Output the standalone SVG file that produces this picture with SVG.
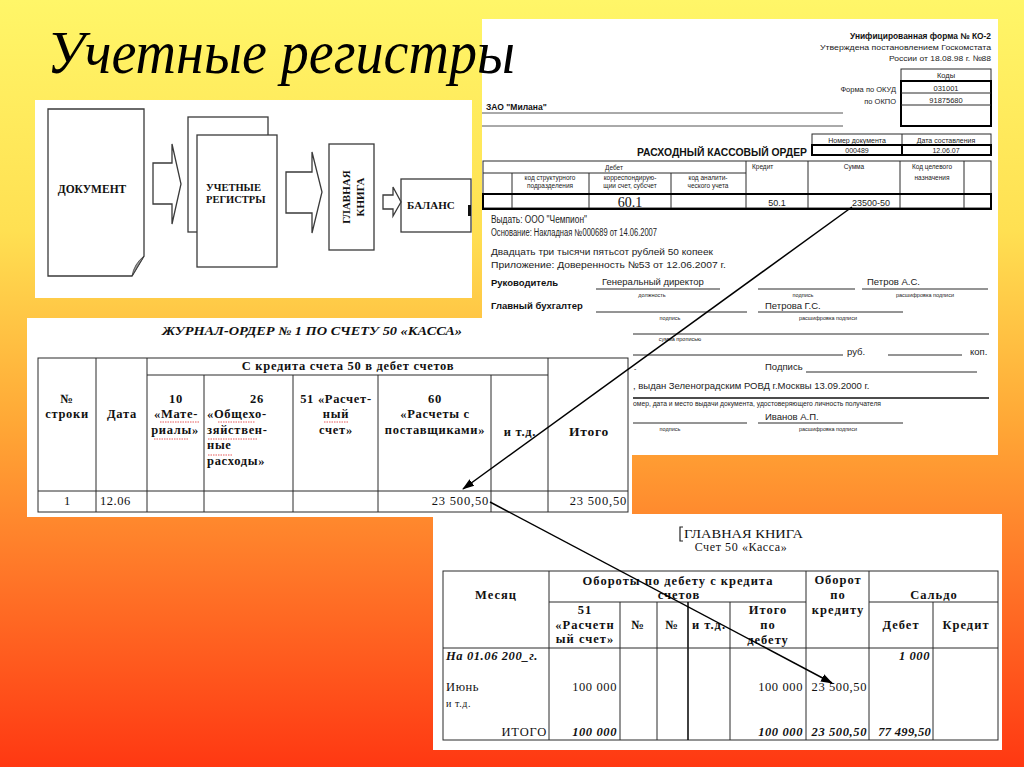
<svg xmlns="http://www.w3.org/2000/svg" width="1024" height="767" viewBox="0 0 1024 767">
<defs>
<linearGradient id="bg" x1="0" y1="0" x2="0" y2="1">
<stop offset="0" stop-color="#FFF668"/>
<stop offset="0.3" stop-color="#FFE052"/>
<stop offset="0.55" stop-color="#FFA836"/>
<stop offset="0.75" stop-color="#FF7628"/>
<stop offset="1" stop-color="#FF3812"/>
</linearGradient>
<marker id="ah" viewBox="0 0 12 10" refX="11" refY="5" markerWidth="12" markerHeight="10" markerUnits="userSpaceOnUse" orient="auto">
<path d="M0,1 L12,5 L0,9 Z" fill="#000"/>
</marker>
<style>
.s{font-family:"Liberation Sans",Arial,sans-serif;fill:#222}
.sb{font-family:"Liberation Sans",Arial,sans-serif;fill:#111;font-weight:bold}
.t{font-family:"Liberation Serif","Times New Roman",serif;fill:#111}
.tb{font-family:"Liberation Serif","Times New Roman",serif;fill:#111;font-weight:bold}
.c{text-anchor:middle}
.e{text-anchor:end}
.ln{stroke:#2a2a2a;stroke-width:1;fill:none}
.tk{stroke:#000;stroke-width:2;fill:none}
.fl{stroke:#3a3a3a;stroke-width:1.3;fill:#fff}
.sp{stroke:#e03030;stroke-width:0.8;stroke-dasharray:1.5 1;fill:none}
.jh{font-size:12.5px;letter-spacing:0.7px}
.bh{font-size:12.5px;letter-spacing:1px}
.tiny{font-size:5.5px}
.sm{font-size:6.5px}
.bd{font-size:9.5px}
.conn{stroke:#000;stroke-width:1.5;fill:none}
</style>
</defs>

<rect x="0" y="0" width="1024" height="767" fill="url(#bg)"/>

<!-- Flow diagram panel -->
<g id="flow-panel">
<rect x="35" y="100" width="437" height="198" fill="#fff"/>
<g id="node-document">
<path class="fl" d="M48,109 H144 V256 L132,276 H48 Z"/>
<path d="M144,256 L132,276 Q134,264 144,256 Z" fill="#9a9a9a" stroke="#3a3a3a" stroke-width="0.8"/>
<text class="tb c" x="92" y="193" font-size="11.5">ДОКУМЕНТ</text>
</g>
<g id="node-registers">
<rect class="fl" x="188" y="117" width="80" height="115"/>
<rect class="fl" x="197" y="135" width="80" height="132"/>
<text class="tb" x="206" y="191" font-size="10.5">УЧЕТНЫЕ</text>
<text class="tb" x="206" y="203" font-size="10.5">РЕГИСТРЫ</text>
</g>
<g id="node-ledger">
<rect class="fl" x="329" y="144" width="45" height="106"/>
<text class="tb c" transform="translate(350,197) rotate(-90)" font-size="11">ГЛАВНАЯ</text>
<text class="tb c" transform="translate(364,197) rotate(-90)" font-size="11">КНИГА</text>
</g>
<g id="node-balance">
<rect class="fl" x="401" y="179" width="70" height="53"/>
<text class="tb" x="407" y="209" font-size="11">БАЛАНС</text>
<rect x="468" y="205" width="3" height="11" fill="#111"/>
</g>
<g id="flow-connectors">
<polygon class="fl" points="153,163 172,163 172,144 181,184 172,224 172,204 153,204"/>
<polygon class="fl" points="286,172 312,172 312,152 322,192 312,233 312,213 286,213"/>
<polygon class="fl" points="383,195 393,195 393,187 401,202 393,216 393,209 383,209"/>
</g>
</g>

<!-- Cash order form КО-2 -->
<g id="form-ko2">
<rect x="482" y="19" width="516" height="436" fill="#fff"/>
<text class="sb e" x="991" y="39" font-size="8.5" textLength="141" lengthAdjust="spacingAndGlyphs">Унифицированная форма № КО-2</text>
<text class="s e" x="991" y="50" font-size="8" textLength="171" lengthAdjust="spacingAndGlyphs">Утверждена постановлением Госкомстата</text>
<text class="s e" x="991" y="61" font-size="8" textLength="102" lengthAdjust="spacingAndGlyphs">России от 18.08.98 г. №88</text>
<rect class="ln" x="901" y="69" width="90" height="12"/>
<text class="s c" x="946" y="78" font-size="7.5">Коды</text>
<rect class="tk" x="901" y="81" width="90" height="45"/>
<line class="ln" x1="901" y1="93" x2="991" y2="93"/>
<line class="ln" x1="901" y1="105" x2="991" y2="105"/>
<text class="s c" x="946" y="91" font-size="7.5">031001</text>
<text class="s c" x="946" y="103" font-size="7.5">91875680</text>
<text class="s e" x="896" y="92" font-size="7.5">Форма по ОКУД</text>
<text class="s e" x="896" y="104" font-size="7.5">по ОКПО</text>
<text class="sb" x="486" y="110" font-size="8.5">ЗАО "Милана"</text>
<line x1="482" y1="113" x2="843" y2="113" stroke="#555" stroke-width="1"/>
<line x1="482" y1="126" x2="843" y2="126" stroke="#555" stroke-width="1"/>
<rect class="ln" x="812" y="134" width="179" height="11"/>
<line class="ln" x1="902" y1="134" x2="902" y2="145"/>
<rect class="tk" x="812" y="145" width="179" height="10"/>
<line class="tk" x1="902" y1="145" x2="902" y2="155"/>
<text class="s c" x="857" y="142.5" font-size="7">Номер документа</text>
<text class="s c" x="946" y="142.5" font-size="7">Дата составления</text>
<text class="s c" x="857" y="153" font-size="7">000489</text>
<text class="s c" x="946" y="153" font-size="7">12.06.07</text>
<text class="sb" x="637" y="156" font-size="10" textLength="170" lengthAdjust="spacingAndGlyphs">РАСХОДНЫЙ КАССОВЫЙ ОРДЕР</text>
<rect class="ln" x="483" y="161" width="508" height="47"/>
<line class="ln" x1="483" y1="173" x2="746" y2="173"/>
<line class="ln" x1="512" y1="173" x2="512" y2="208"/>
<line class="ln" x1="589" y1="173" x2="589" y2="208"/>
<line class="ln" x1="671" y1="173" x2="671" y2="208"/>
<line class="ln" x1="746" y1="161" x2="746" y2="208"/>
<line class="ln" x1="808" y1="161" x2="808" y2="208"/>
<line class="ln" x1="900" y1="161" x2="900" y2="208"/>
<line class="ln" x1="964" y1="161" x2="964" y2="208"/>
<rect class="tk" x="483" y="194" width="508" height="15"/>
<text class="s c sm" x="614" y="170">Дебет</text>
<text class="s c sm" x="550" y="180">код структурного</text>
<text class="s c sm" x="550" y="188">подразделения</text>
<text class="s c sm" x="630" y="180">корреспондирую-</text>
<text class="s c sm" x="630" y="188">щии счет, субсчет</text>
<text class="s c sm" x="708" y="180">код аналити-</text>
<text class="s c sm" x="708" y="188">ческого учета</text>
<text class="s sm" x="752" y="169">Кредит</text>
<text class="s c sm" x="854" y="169">Сумма</text>
<text class="s c sm" x="932" y="169">Код целевого</text>
<text class="s c sm" x="932" y="180">назначения</text>
<text class="t c" x="630" y="207" font-size="14">60.1</text>
<text class="s c" x="777" y="205.5" font-size="9">50.1</text>
<text class="s c" x="871" y="205.5" font-size="9">23500-50</text>
<text class="s" x="491" y="223" font-size="10" textLength="96" lengthAdjust="spacingAndGlyphs">Выдать: ООО "Чемпион"</text>
<text class="s" x="491" y="236" font-size="10" textLength="166" lengthAdjust="spacingAndGlyphs">Основание: Накладная №000689 от 14.06.2007</text>
<text class="s" x="491" y="255" font-size="9.5" textLength="222" lengthAdjust="spacingAndGlyphs">Двадцать три тысячи пятьсот рублей 50 копеек</text>
<text class="s" x="491" y="268" font-size="9.5" textLength="235" lengthAdjust="spacingAndGlyphs">Приложение: Доверенность №53 от 12.06.2007 г.</text>
<text class="sb" x="491" y="286" font-size="9.5">Руководитель</text>
<text class="sb" x="491" y="309" font-size="9.5">Главный бухгалтер</text>
<text class="s bd" x="602" y="285">Генеральный директор</text>
<line class="ln" x1="596" y1="289" x2="720" y2="289"/>
<text class="s c tiny" x="652" y="297">должность</text>
<line class="ln" x1="758" y1="289" x2="855" y2="289"/>
<text class="s c tiny" x="803" y="297">подпись</text>
<text class="s bd" x="867" y="285">Петров А.С.</text>
<line class="ln" x1="862" y1="289" x2="988" y2="289"/>
<text class="s c tiny" x="925" y="297">расшифровка подписи</text>
<line class="ln" x1="596" y1="312" x2="747" y2="312"/>
<text class="s c tiny" x="670" y="320">подпись</text>
<text class="s bd" x="765" y="309">Петрова Г.С.</text>
<line class="ln" x1="758" y1="312" x2="903" y2="312"/>
<text class="s c tiny" x="828" y="320">расшифровка подписи</text>
<line class="ln" x1="633" y1="334" x2="989" y2="334"/>
<text class="s c tiny" x="680" y="341">сумма прописью</text>
<line class="ln" x1="633" y1="355" x2="843" y2="355"/>
<text class="s bd" x="847" y="355">руб.</text>
<line class="ln" x1="888" y1="355" x2="962" y2="355"/>
<text class="s bd" x="970" y="355">коп.</text>
<text class="s" x="634" y="371" font-size="7">-</text>
<text class="s bd" x="765" y="370">Подпись</text>
<line class="ln" x1="806" y1="372" x2="977" y2="372"/>
<text class="s bd" x="633" y="389">, выдан Зеленоградским РОВД г.Москвы 13.09.2000 г.</text>
<line x1="633" y1="398" x2="989" y2="398" stroke="#111" stroke-width="1.6"/>
<text class="s" x="633" y="406" font-size="6.3" textLength="248" lengthAdjust="spacingAndGlyphs">омер, дата и место выдачи документа, удостоверяющего личность получателя</text>
<text class="s bd" x="765" y="420">Иванов А.П.</text>
<line class="ln" x1="633" y1="423" x2="747" y2="423"/>
<line class="ln" x1="758" y1="423" x2="903" y2="423"/>
<text class="s c tiny" x="670" y="431">подпись</text>
<text class="s c tiny" x="828" y="431">расшифровка подписи</text>
</g>

<!-- Title -->
<text id="title" x="47" y="73" font-family="'Liberation Serif','Times New Roman',serif" font-style="italic" font-size="61" fill="#000" textLength="468" lengthAdjust="spacingAndGlyphs">Учетные регистры</text>

<!-- General ledger -->
<g id="general-ledger">
<rect x="433" y="514" width="569" height="236" fill="#fff"/>
<text class="t" x="684" y="538" font-size="12.5" textLength="119" lengthAdjust="spacingAndGlyphs">ГЛАВНАЯ КНИГА</text>
<path d="M683,527 H680 V541 H683" fill="none" stroke="#222" stroke-width="1.2"/>
<text class="t c" x="741" y="551" font-size="12" letter-spacing="0.6">Счет 50 «Касса»</text>
<rect class="ln" x="443" y="571" width="555" height="169"/>
<line class="ln" x1="549" y1="571" x2="549" y2="740"/>
<line class="ln" x1="806" y1="571" x2="806" y2="740"/>
<line class="ln" x1="869" y1="571" x2="869" y2="740"/>
<line class="ln" x1="549" y1="602" x2="806" y2="602"/>
<line class="ln" x1="869" y1="602" x2="998" y2="602"/>
<line class="ln" x1="620" y1="602" x2="620" y2="740"/>
<line class="ln" x1="657" y1="602" x2="657" y2="740"/>
<line x1="688" y1="602" x2="688" y2="740" stroke="#111" stroke-width="1.6"/>
<line class="ln" x1="730" y1="602" x2="730" y2="740"/>
<line class="ln" x1="933" y1="602" x2="933" y2="740"/>
<line class="ln" x1="443" y1="648" x2="998" y2="648"/>
<text class="tb c bh" x="496" y="599">Месяц</text>
<text class="tb c bh" x="678" y="585">Обороты по дебету с кредита</text>
<text class="tb c bh" x="679" y="599">счетов</text>
<text class="tb c bh" x="838" y="584">Оборот</text>
<text class="tb c bh" x="838" y="599">по</text>
<text class="tb c bh" x="838" y="614">кредиту</text>
<text class="tb c bh" x="934" y="599">Сальдо</text>
<text class="tb c bh" x="585" y="614">51</text>
<text class="tb c bh" x="585" y="629">«Расчетн</text>
<text class="tb c bh" x="585" y="643">ый счет»</text>
<text class="tb c bh" x="638" y="629">№</text>
<text class="tb c bh" x="672" y="629">№</text>
<text class="tb c bh" x="709" y="629">и т.д.</text>
<text class="tb c bh" x="768" y="614">Итого</text>
<text class="tb c bh" x="768" y="629">по</text>
<text class="tb c bh" x="768" y="644">дебету</text>
<text class="tb c bh" x="901" y="629">Дебет</text>
<text class="tb c bh" x="966" y="629">Кредит</text>
<text class="tb" x="446" y="660" font-size="12.5" font-style="italic" letter-spacing="0.6">На 01.06 200_г.</text>
<text class="tb e" x="930" y="660" font-size="12.5" font-style="italic" letter-spacing="0.6">1 000</text>
<text class="t" x="446" y="691" font-size="12.5" letter-spacing="0.6">Июнь</text>
<text class="t" x="446" y="707" font-size="10" letter-spacing="0.6">и т.д.</text>
<text class="t e" x="617" y="691" font-size="12.5" letter-spacing="0.6">100 000</text>
<text class="t e" x="803" y="691" font-size="12.5" letter-spacing="0.6">100 000</text>
<text class="t e" x="867" y="691" font-size="12.5" letter-spacing="0.6">23 500,50</text>
<text class="t e" x="547" y="736" font-size="12.5" letter-spacing="0.8">ИТОГО</text>
<text class="tb e" x="617" y="736" font-size="12.5" font-style="italic" letter-spacing="0.6">100 000</text>
<text class="tb e" x="803" y="736" font-size="12.5" font-style="italic" letter-spacing="0.6">100 000</text>
<text class="tb e" x="867" y="736" font-size="12.5" font-style="italic" letter-spacing="0.6">23 500,50</text>
<text class="tb e" x="931" y="736" font-size="12.5" font-style="italic" letter-spacing="0.3">77 499,50</text>
</g>

<!-- Journal-order -->
<g id="journal-order">
<rect x="27" y="318" width="605" height="199" fill="#fff"/>
<text class="tb c" x="312" y="335" font-size="12" font-style="italic" textLength="300" lengthAdjust="spacingAndGlyphs">ЖУРНАЛ-ОРДЕР № 1 ПО СЧЕТУ 50 «КАССА»</text>
<rect class="ln" x="38" y="358" width="590" height="154"/>
<line class="ln" x1="96" y1="358" x2="96" y2="512"/>
<line class="ln" x1="147" y1="358" x2="147" y2="512"/>
<line class="ln" x1="548" y1="358" x2="548" y2="512"/>
<line class="ln" x1="147" y1="375" x2="548" y2="375"/>
<line class="ln" x1="204" y1="375" x2="204" y2="512"/>
<line class="ln" x1="293" y1="375" x2="293" y2="512"/>
<line class="ln" x1="378" y1="375" x2="378" y2="512"/>
<line class="ln" x1="491" y1="375" x2="491" y2="512"/>
<line class="ln" x1="38" y1="491" x2="628" y2="491"/>
<text class="tb c jh" x="348" y="370">С кредита счета 50 в дебет счетов</text>
<text class="tb c jh" x="67" y="403">№</text>
<text class="tb c jh" x="67" y="418">строки</text>
<text class="tb c jh" x="122" y="418">Дата</text>
<text class="tb c jh" x="176" y="403">10</text>
<text class="tb c jh" x="176" y="418">«Мате-</text>
<text class="tb c jh" x="175" y="434">риалы»</text>
<text class="tb c jh" x="257" y="403">26</text>
<text class="tb jh" x="207" y="418">«Общехо-</text>
<text class="tb jh" x="207" y="434">зяйствен-</text>
<text class="tb jh" x="207" y="449">ные</text>
<text class="tb jh" x="207" y="465">расходы»</text>
<text class="tb c jh" x="336" y="403">51 «Расчет-</text>
<text class="tb c jh" x="336" y="418">ный</text>
<text class="tb c jh" x="336" y="434">счет»</text>
<text class="tb c jh" x="435" y="403">60</text>
<text class="tb c jh" x="435" y="418">«Расчеты с</text>
<text class="tb c jh" x="435" y="434">поставщиками»</text>
<text class="tb c jh" x="520" y="436">и т.д.</text>
<text class="tb c" x="589" y="436" font-size="13.5" letter-spacing="0.8">Итого</text>
<path class="sp" d="M160,422 H200 M154,439 H188 M218,422 H255 M208,439 H258 M208,455 H232 M324,422 H349"/>
<text class="t c" x="67" y="505" font-size="12.5">1</text>
<text class="t" x="100" y="505" font-size="12.5" letter-spacing="0.5">12.06</text>
<text class="t e" x="489" y="505" font-size="12.5" letter-spacing="0.8">23 500,50</text>
<text class="t e" x="627" y="505" font-size="12.5" letter-spacing="0.8">23 500,50</text>
</g>

<!-- Connectors -->
<g id="connectors">
<line class="conn" x1="852" y1="207" x2="463" y2="489" marker-end="url(#ah)"/>
<line class="conn" x1="490" y1="502" x2="832" y2="683" marker-end="url(#ah)"/>
</g>
</svg>
